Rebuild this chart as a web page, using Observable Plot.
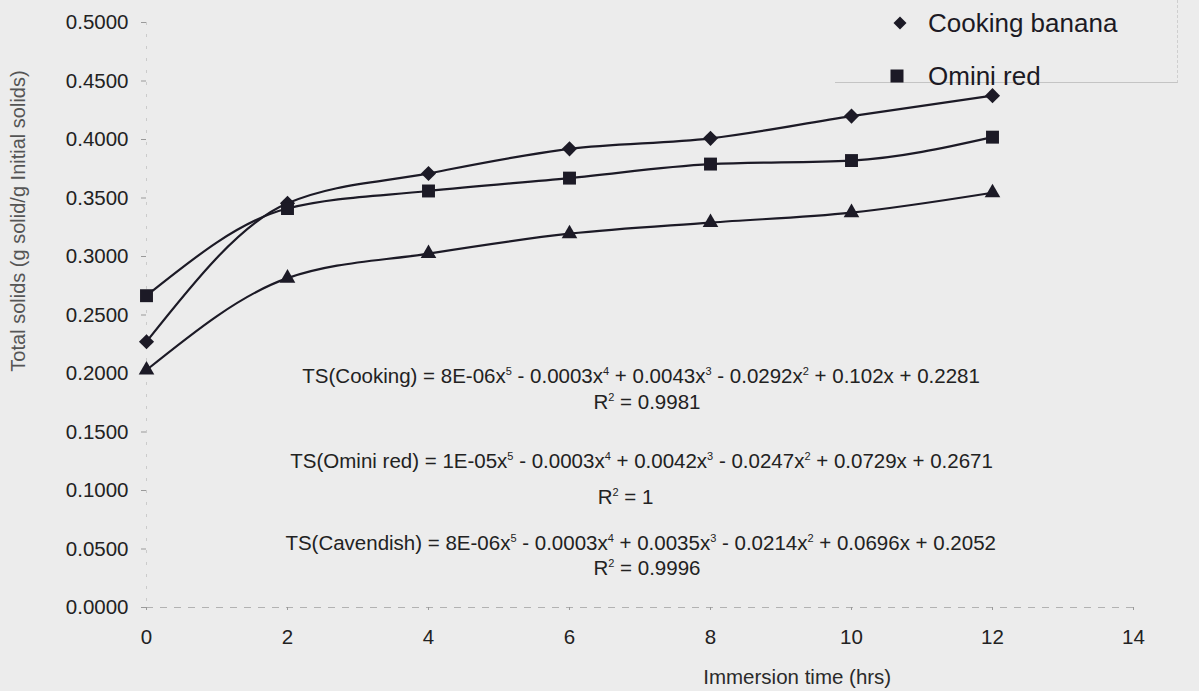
<!DOCTYPE html>
<html>
<head>
<meta charset="utf-8">
<script src="https://cdn.jsdelivr.net/npm/d3@7"></script>
<script src="https://cdn.jsdelivr.net/npm/@observablehq/plot@0.6"></script>
<style>
  html, body { margin: 0; padding: 0; background: #ececec; }
  body { font-family: "Liberation Sans", Arial, sans-serif; }
  #wrap { position: relative; width: 1199px; height: 691px; overflow: hidden; }
  #legend { position: absolute; left: 835px; top: 0; width: 343px; height: 83px;
            border-bottom: 1px solid #c4c4c4; border-right: 1px dashed #cfcfcf; box-sizing: border-box; }
  .lgsym { position: absolute; }
  .lgtxt { position: absolute; font-size: 26px; line-height: 30px; color: #1c1a24; white-space: nowrap; }
</style>
</head>
<body>
<div id="wrap"><div id="legend"></div></div>
<script>
// ---- data ----
const hours = [0, 2, 4, 6, 8, 10, 12];
const cookingBanana = [0.2272, 0.3455, 0.3710, 0.3920, 0.4010, 0.4200, 0.4375];
const ominiRed      = [0.2665, 0.3410, 0.3560, 0.3670, 0.3790, 0.3820, 0.4020];
const cavendish     = [0.2030, 0.2815, 0.3025, 0.3195, 0.3290, 0.3375, 0.3545];
const seriesNames = ["Cooking banana", "Omini red", "Cavendish"];
const legendNames = ["Cooking banana", "Omini red"];
const yTicks = [0, 0.05, 0.10, 0.15, 0.20, 0.25, 0.30, 0.35, 0.40, 0.45, 0.50];
const xTicks = [0, 2, 4, 6, 8, 10, 12, 14];
const equationTexts = [
  "TS(Cooking) = 8E-06x^5 - 0.0003x^4 + 0.0043x^3 - 0.0292x^2 + 0.102x + 0.2281",
  "R^2 = 0.9981",
  "TS(Omini red) = 1E-05x^5 - 0.0003x^4 + 0.0042x^3 - 0.0247x^2 + 0.0729x + 0.2671",
  "R^2 = 1",
  "TS(Cavendish) = 8E-06x^5 - 0.0003x^4 + 0.0035x^3 - 0.0214x^2 + 0.0696x + 0.2052",
  "R^2 = 0.9996"
];
const xLabel = "Immersion time (hrs)";
const yLabel = "Total solids (g solid/g Initial solids)";

// ---- layout (annotation anchors in data units) ----
const eqAnchorX = [2.21, 6.34, 2.04, 6.40, 1.97, 6.34];
const eqAnchorY = [0.1974, 0.1752, 0.1250, 0.0940, 0.0547, 0.0333];

const ink = "#1c1a26";
const valuesBySeries = [cookingBanana, ominiRed, cavendish];
const rows = seriesNames.flatMap((s, i) => hours.map((h, j) => ({series: s, hour: h, value: valuesBySeries[i][j]})));
const annotations = equationTexts.map((t, i) => ({text: t, x: eqAnchorX[i], y: eqAnchorY[i]}));
const symbolRange = ["diamond2", "square", "triangle"];
const symbolR = [6.8, 7.3, 5.8];

const font = "'Liberation Sans', Arial, sans-serif";

const chart = Plot.plot({
  width: 1199,
  height: 691,
  marginLeft: 146,
  marginRight: 66,
  marginTop: 22,
  marginBottom: 84,
  style: {background: "transparent", fontFamily: font, fontSize: "20px", color: "#222"},
  x: {domain: [0, 14]},
  y: {domain: [0, 0.5]},
  symbol: {domain: seriesNames, range: symbolRange},
  marks: [
    Plot.ruleY([0], {stroke: "#9a9a9a", strokeOpacity: 0.7, strokeDasharray: "7,7"}),
    Plot.ruleX([0], {stroke: "#b5b5b5", strokeOpacity: 0.6, strokeDasharray: "3,9"}),
    Plot.axisY({ticks: yTicks, tickFormat: d3.format(".4f"), tickSize: 5, tickPadding: 13,
                stroke: "#9a9a9a", fill: "#222", fontSize: 20.5, label: null}),
    Plot.axisX({ticks: xTicks, tickFormat: d => String(d), tickSize: 3, tickPadding: 19,
                stroke: "#9a9a9a", fill: "#222", fontSize: 20.5, label: null}),
    Plot.text([xLabel], {x: 9.23, frameAnchor: "bottom", lineAnchor: "middle", textAnchor: "middle",
                         dy: 70, text: d => d, fontSize: 20.5, fill: "#2a2a2a"}),
    Plot.text([yLabel], {frameAnchor: "left", textAnchor: "middle", lineAnchor: "middle",
                         dx: -128, dy: -94, rotate: -90, text: d => d, fontSize: 20, fill: "#555"}),
    Plot.line(rows, {x: "hour", y: "value", z: "series", curve: "monotone-x", stroke: ink, strokeWidth: 2.2}),
    ...seriesNames.map((s, i) => Plot.dot(rows.filter(d => d.series === s),
        {x: "hour", y: "value", symbol: "series", r: symbolR[i], fill: ink, stroke: "none"})),
    Plot.text(annotations, {x: "x", y: "y", text: "text", textAnchor: "start", fontSize: 20.5, fill: "#222"})
  ]
});

// superscripts: replace "^n" with raised small tspans
chart.querySelectorAll("text").forEach(t => {
  const s = t.textContent;
  if (!s.includes("^")) return;
  while (t.firstChild) t.removeChild(t.firstChild);
  const parts = s.split(/\^(\d)/);
  const NS = "http://www.w3.org/2000/svg";
  let raised = false;
  parts.forEach((p, i) => {
    if (p === "") return;
    const ts = document.createElementNS(NS, "tspan");
    if (i % 2 === 1) {
      ts.setAttribute("dy", "-8");
      ts.setAttribute("font-size", "11");
      raised = true;
    } else if (raised) {
      ts.setAttribute("dy", "8");
      raised = false;
    }
    ts.textContent = p;
    t.appendChild(ts);
  });
});

const wrap = document.getElementById("wrap");
wrap.insertBefore(chart, wrap.firstChild);

// legend (positions relative to legend box at left 835)
const legend = document.getElementById("legend");
const legendCenterY = [23, 76];
const legendSymX = [900, 897];
legendNames.forEach((name, i) => {
  const k = seriesNames.indexOf(name);
  const sym = [d3.symbolDiamond2, d3.symbolSquare, d3.symbolTriangle][k];
  const size = [108, 169, 100][k];
  const svg = d3.create("svg").attr("class", "lgsym").attr("width", 20).attr("height", 20)
    .style("left", (legendSymX[i] - 835 - 10) + "px").style("top", (legendCenterY[i] - 10) + "px");
  svg.append("path").attr("transform", "translate(10,10)").attr("d", d3.symbol(sym, size)()).attr("fill", ink);
  legend.appendChild(svg.node());
  const span = document.createElement("div");
  span.className = "lgtxt";
  span.style.left = (928 - 835) + "px";
  span.style.top = (legendCenterY[i] - 15) + "px";
  span.textContent = name;
  legend.appendChild(span);
});
</script>
</body>
</html>
